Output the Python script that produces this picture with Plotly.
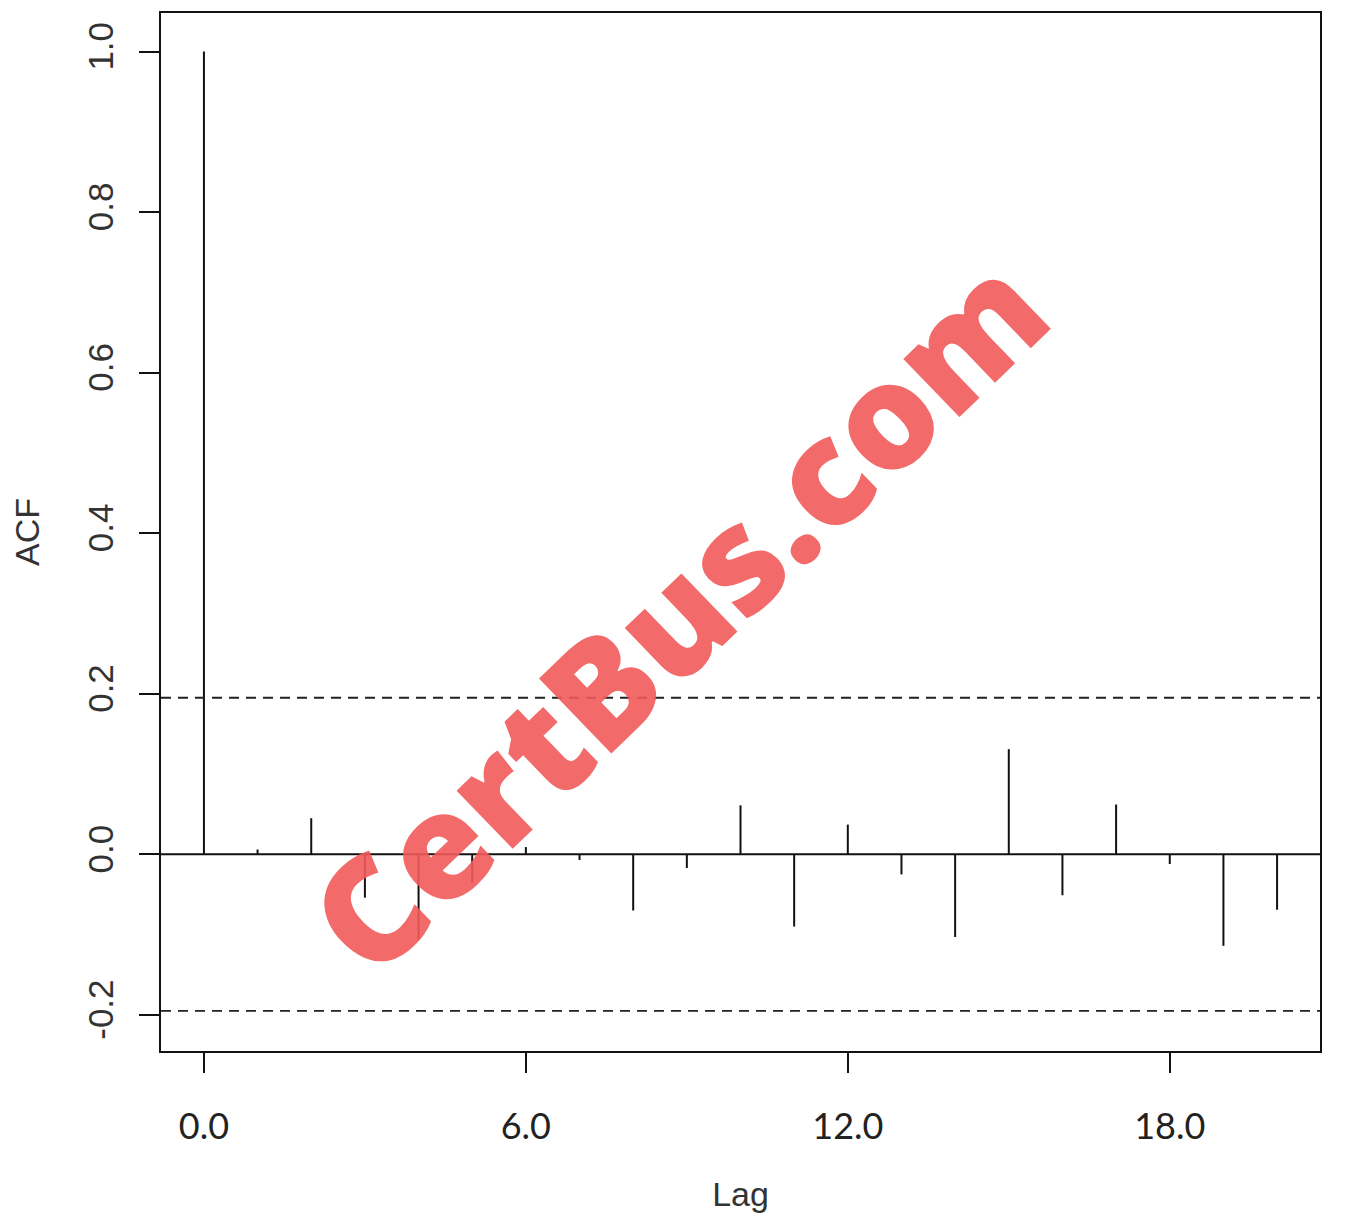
import plotly.graph_objects as go

# ---- data ----
lags = list(range(0, 21))
acf_values = [1.0, 0.006, 0.045, -0.054, -0.106, -0.035, 0.009, -0.007, -0.070, -0.017,
              0.061, -0.090, 0.037, -0.025, -0.103, 0.131, -0.051, 0.062, -0.012, -0.114, -0.069]
conf_limit = 0.195
x_tick_vals = [0, 6, 12, 18]
x_tick_text = ["0.0", "6.0", "12.0", "18.0"]
y_tick_vals = [-0.2, 0.0, 0.2, 0.4, 0.6, 0.8, 1.0]
y_tick_text = ["-0.2", "0.0", "0.2", "0.4", "0.6", "0.8", "1.0"]

# stems built from the data arrays
stem_x, stem_y = [], []
for lag, v in zip(lags, acf_values):
    stem_x += [lag, lag, None]
    stem_y += [0, v, None]

fig = go.Figure()
fig.add_trace(go.Scatter(x=stem_x, y=stem_y, mode="lines",
                         line=dict(color="#111111", width=2),
                         hoverinfo="skip", showlegend=False))

# zero line and confidence bounds
fig.add_shape(type="line", xref="paper", x0=0, x1=1, yref="y", y0=0, y1=0,
              line=dict(color="#111111", width=2))
for c in (conf_limit, -conf_limit):
    fig.add_shape(type="line", xref="paper", x0=0, x1=1, yref="y", y0=c, y1=c,
                  line=dict(color="#222222", width=1.8, dash="10px,7px"))

# watermark
W, H = 1346, 1212
L, R, T, B = 153, 34, 3, 169
px0, px1, py0, py1 = L, W - R, T, H - B
wx, wy = 676 - 8, 612 - 8
fig.add_annotation(text="CertBus.com", xref="paper", yref="paper",
                   x=(wx - px0) / (px1 - px0), y=(py1 - wy) / (py1 - py0),
                   xanchor="center", yanchor="middle", showarrow=False,
                   textangle=-44, opacity=0.9,
                   font=dict(family="Open Sans", size=146, color="#f25a5a", weight=800))

fig.update_layout(
    width=W, height=H,
    margin=dict(l=L, r=R, t=T, b=B),
    paper_bgcolor="white", plot_bgcolor="white",
    font=dict(family="Liberation Sans", color="#222222"),
    xaxis=dict(range=[-0.8, 20.8], tickvals=x_tick_vals, ticktext=x_tick_text,
               ticks="outside", ticklen=20, tickwidth=1.8, tickcolor="#111111",
               showline=True, mirror=True, linecolor="#111111", linewidth=2,
               showgrid=False, zeroline=False,
               tickfont=dict(family="Lato", size=36, color="#222222"),
               ticklabelstandoff=23,
               title=dict(text="Lag", font=dict(family="Liberation Sans", size=34, color="#333333"),
                          standoff=36)),
    yaxis=dict(range=[-0.245, 1.048], tickvals=y_tick_vals, ticktext=y_tick_text,
               ticks="outside", ticklen=20, tickwidth=1.8, tickcolor="#111111",
               showline=True, mirror=True, linecolor="#111111", linewidth=2,
               showgrid=False, zeroline=False, tickangle=-90,
               tickfont=dict(family="Liberation Sans", size=35, color="#333333"),
               ticklabelstandoff=12,
               title=dict(text="ACF", font=dict(family="Liberation Sans", size=34, color="#333333"),
                          standoff=35)),
)

fig.write_html("out.html")
